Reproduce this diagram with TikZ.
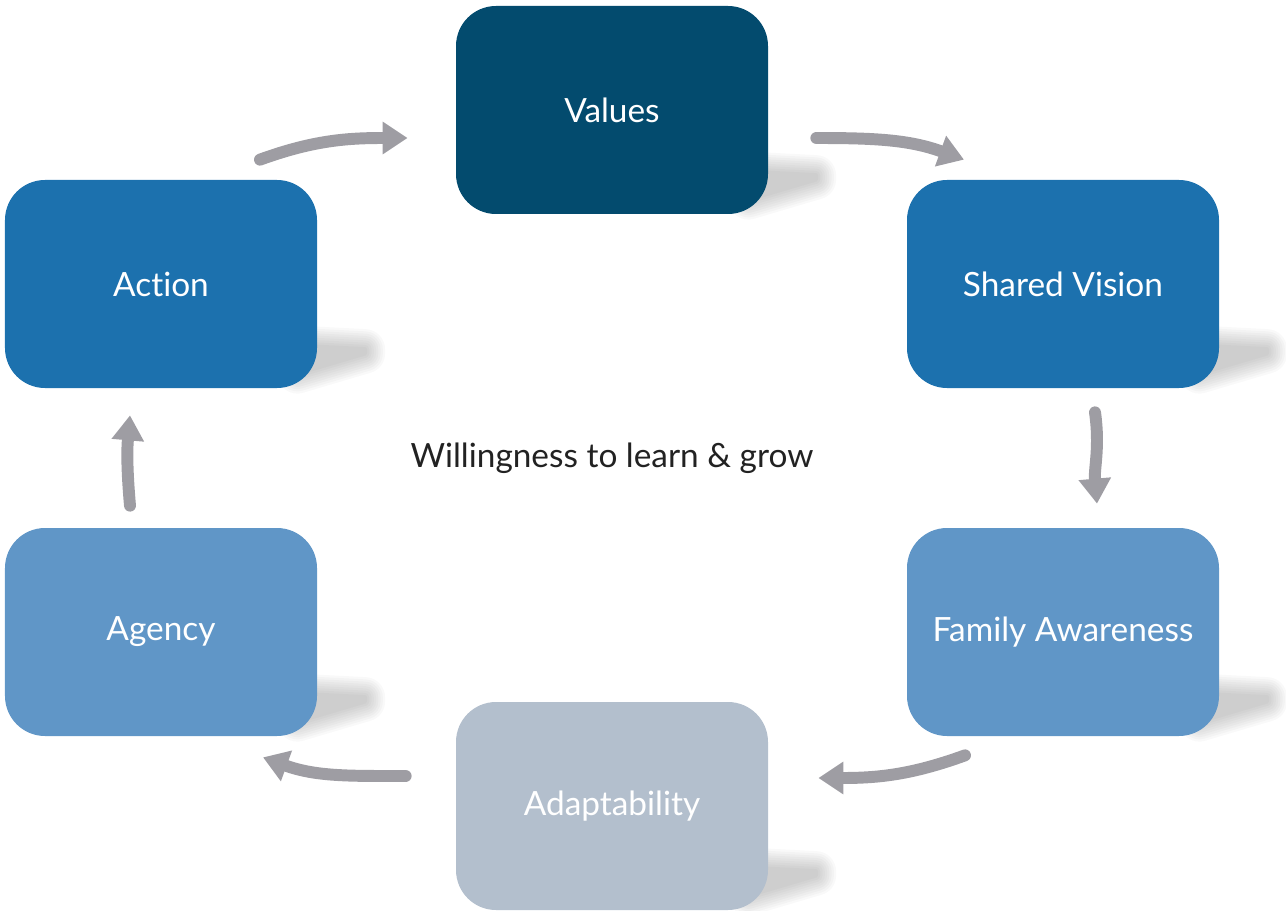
\documentclass[tikz,border=0pt]{standalone}
\usepackage{fontspec}
\setmainfont{Lato}[Ligatures={NoCommon}]
\usetikzlibrary{arrows.meta,calc}

\definecolor{valcol}{HTML}{034B6E}
\definecolor{midcol}{HTML}{1C71AE}
\definecolor{lightcol}{HTML}{6096C7}
\definecolor{palecol}{HTML}{B3BFCD}
\definecolor{arrowgray}{HTML}{9E9DA3}
\definecolor{textdark}{HTML}{222222}

\tikzset{
    card/.style={rectangle, rounded corners=0.8cm, minimum width=6.24cm, minimum height=4.16cm,
        text=white, font=\fontsize{19}{22}\selectfont},
    cyclearrow/.style={arrowgray, line width=6.8pt, line cap=round,
        -{Triangle[width=0.62cm, length=0.5cm]}},
    softshadow/.style={transparency group, opacity=0.022}
}

% soft wedge shadow to the lower right of a card
\newcommand{\cardshadow}[1]{%
    \foreach \w in {1,...,9} {
        \begin{scope}[softshadow]
            \filldraw[black, line width=\w*0.9mm, line join=round]
                ($(#1.south east)+(-0.4,0.85)$) -- ($(#1.south east)+(0.95,0.78)$)
                -- ($(#1.south east)+(0.95,0.7)$) -- ($(#1.south east)+(-0.4,0.3)$) -- cycle;
        \end{scope}
    }
}

\begin{document}
\begin{tikzpicture}
    \useasboundingbox (0,0) rectangle (25.72,18.2);

    % invisible placement first, shadows under the cards
    \path (12.24,16.0) node[card] (val) {}
          (3.22,12.52) node[card] (act) {}
          (21.26,12.52) node[card] (sv) {}
          (3.22,5.56) node[card] (agy) {}
          (21.26,5.56) node[card] (fa) {}
          (12.24,2.08) node[card] (adapt) {};
    \foreach \n in {val,act,sv,agy,fa,adapt} {\cardshadow{\n}}

    \node[card, fill=valcol] at (val) {Values};
    \node[card, fill=midcol] at (act) {Action};
    \node[card, fill=midcol] at (sv) {Shared Vision};
    \node[card, fill=lightcol] at (agy) {Agency};
    \node[card, fill=lightcol] at (fa) {Family Awareness};
    \node[card, fill=palecol] at (adapt) {Adaptability};

    \node[text=textdark, font=\fontsize{19}{22}\selectfont] (centre) at (12.24,9.04) {Willingness to learn \& grow};

    \draw[cyclearrow] ($(act.north)+(1.98,0.4)$) to[out=20, in=180] ($(val.west)+(-0.96,-0.56)$);
    \draw[cyclearrow] ($(val.east)+(0.96,-0.56)$) to[out=0, in=160] ($(sv.north)+(-1.98,0.4)$);
    \draw[cyclearrow] ($(sv.south)+(0.64,-0.48)$) to[out=-82, in=95] ($(fa.north)+(0.68,0.48)$);
    \draw[cyclearrow] ($(fa.south)+(-1.96,-0.38)$) to[out=200, in=0] ($(adapt.east)+(1.0,0.56)$);
    \draw[cyclearrow] ($(adapt.west)+(-1.0,0.6)$) to[out=180, in=-20] ($(agy.south)+(2.04,-0.42)$);
    \draw[cyclearrow] ($(agy.north)+(-0.62,0.44)$) to[out=95, in=-95] ($(act.south)+(-0.62,-0.54)$);

\end{tikzpicture}
\end{document}
